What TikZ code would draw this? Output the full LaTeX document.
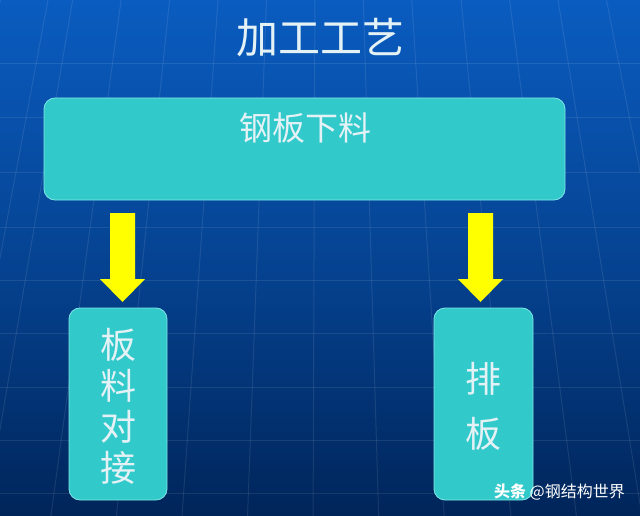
\documentclass[tikz,border=0pt]{standalone}
\usepackage{fontspec}
\newfontfamily\cjk{Noto Sans CJK SC}
\usetikzlibrary{shadings}
\definecolor{bgtop}{HTML}{0A5CC0}
\definecolor{bgbot}{HTML}{00255A}
\definecolor{boxfill}{HTML}{32C9CB}
\definecolor{boxline}{HTML}{7FE6E6}
\definecolor{txt}{HTML}{E4F2F6}
\definecolor{arrowy}{HTML}{FFFF00}
\tikzset{
  procbox/.style={draw=boxline, line width=0.8pt, fill=boxfill, rounded corners=11pt},
  gridline/.style={draw=white, opacity=0.09, line width=1pt},
  bigarrow/.style={fill=arrowy, draw=none},
  label/.style={text=txt, font=\cjk, inner sep=0pt},
}
\begin{document}
\begin{tikzpicture}[x=1pt,y=-1pt]
\useasboundingbox (0,0) rectangle (640,516);
\shade[top color=bgtop, bottom color=bgbot, middle color=bgtop!55!bgbot] (0,0) rectangle (640,516);
% grid
\foreach \yy in {64,118,173,227,280,333,387,440,493} {
  \draw[gridline] (0,\yy) -- (640,\yy);
}
\foreach \xx in {-56,0,29,86,143,200,257,314,371,428,486,543,600,657,714} {
  \draw[gridline] ({320+(\xx-320)*0.85},0) -- ({320+(\xx-320)*1.15},516);
}
% title
\node[label, font=\cjk\fontsize{42}{46}\selectfont] (title) at (320,38) {加工工艺};
% boxes
\draw[procbox] (44,98) rectangle (565,200);
\node[label, font=\cjk\fontsize{33}{38}\selectfont] (top) at (305,128) {钢板下料};
\draw[procbox] (69,308) rectangle (167,500);
\node[label, align=center, font=\cjk\fontsize{36}{41}\selectfont] (left) at (118,406) {板\\料\\对\\接};
\draw[procbox] (434,308) rectangle (533,500);
\node[label, align=center, font=\cjk\fontsize{36}{55}\selectfont] (right) at (483,406) {排\\板};
% arrows
\fill[bigarrow] (110,213) -- (135,213) -- (135,279) -- (145,279) -- (122.5,302) -- (100,279) -- (110,279) -- cycle;
\fill[bigarrow] (468,213) -- (493,213) -- (493,279) -- (503,279) -- (480.5,302) -- (458,279) -- (468,279) -- cycle;
% watermark
\node[text=white, font=\cjk\fontsize{16}{18}\selectfont, anchor=east, inner sep=0pt] (wm) at (625,492) {\textbf{头条} @钢结构世界};
\end{tikzpicture}
\end{document}
